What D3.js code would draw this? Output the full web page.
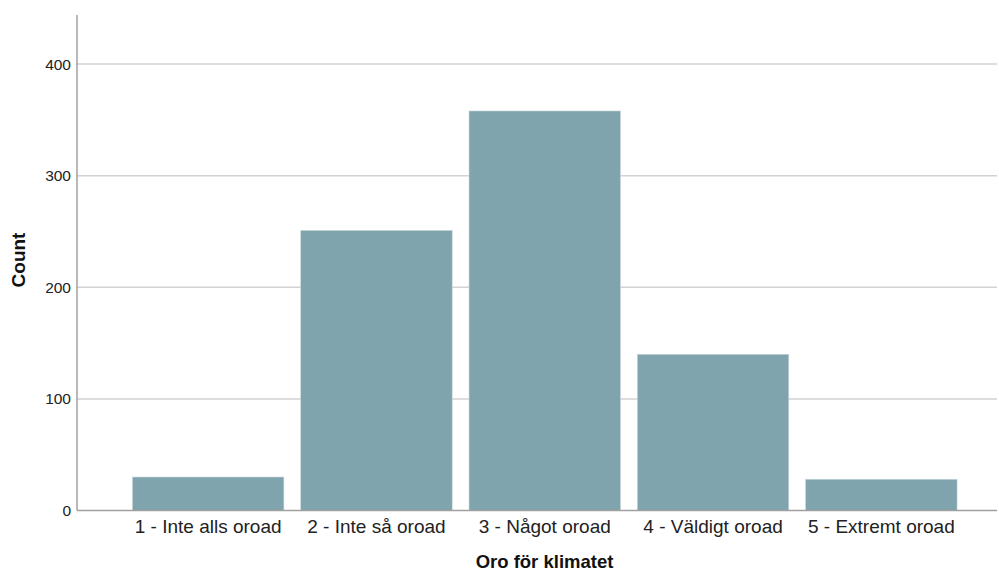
<!DOCTYPE html>
<html>
<head>
<meta charset="utf-8">
<script src="https://cdn.jsdelivr.net/npm/d3@7"></script>
<style>
  body { margin: 0; background: #fff; }
  text { font-family: "Liberation Sans", Arial, sans-serif; }
</style>
</head>
<body>
<div id="chart"></div>
<script>
	//Chart data
	var categories = ["1 - Inte alls oroad", "2 - Inte så oroad", "3 - Något oroad", "4 - Väldigt oroad", "5 - Extremt oroad"];
	var counts = [30, 251, 358, 140, 28];
	var yTicks = [0, 100, 200, 300, 400];

	//Plot box (not using "top" - it clashes with window.top)
	var	W = 999, H = 572,
		m = {left: 77, right: 997, top: 15, bottom: 510.5};

	var svg = d3.select("#chart").append("svg")
		.attr("width", W)
		.attr("height", H);

	var y = d3.scaleLinear().domain([0, 444]).range([m.bottom, m.top]);
	var x = d3.scaleBand().domain(categories).range([124, 965.5]).paddingInner(0.1).paddingOuter(0.05);

	//Gridlines
	svg.append("g")
		.selectAll("line")
		.data(yTicks.filter(function(d) { return d > 0; }))
		.enter().append("line")
		.attr("x1", m.left).attr("x2", m.right)
		.attr("y1", function(d) { return y(d); })
		.attr("y2", function(d) { return y(d); })
		.attr("stroke", "#d2d2d2")
		.attr("stroke-width", 1.5);

	//Bars
	svg.append("g")
		.selectAll("rect")
		.data(counts)
		.enter().append("rect")
		.attr("x", function(d, i) { return x(categories[i]); })
		.attr("width", x.bandwidth())
		.attr("y", function(d) { return y(d); })
		.attr("height", function(d) { return y(0) - y(d); })
		.attr("fill", "#7fa4ad")
		.attr("stroke", "#c9d8dc")
		.attr("stroke-width", 0.6);

	//Y axis
	var yAxis = svg.append("g")
		.attr("transform", "translate(" + m.left + ",0)")
		.call(d3.axisLeft(y).tickValues(yTicks).tickSize(0).tickPadding(6));
	yAxis.select(".domain").remove();
	yAxis.selectAll("text").attr("font-size", 15.5).attr("fill", "#222");
	svg.append("line")
		.attr("x1", m.left).attr("x2", m.left)
		.attr("y1", m.top).attr("y2", m.bottom)
		.attr("stroke", "#a0a0a0").attr("stroke-width", 1.5);

	//X axis
	var xAxis = svg.append("g")
		.attr("transform", "translate(0," + m.bottom + ")")
		.call(d3.axisBottom(x).tickSize(0).tickPadding(9));
	xAxis.select(".domain").remove();
	xAxis.selectAll("text").attr("font-size", 19).attr("fill", "#222");
	svg.append("line")
		.attr("x1", m.left).attr("x2", m.right)
		.attr("y1", m.bottom).attr("y2", m.bottom)
		.attr("stroke", "#a0a0a0").attr("stroke-width", 1.5);

	//Axis titles
	svg.append("text")
		.attr("x", 544.5).attr("y", 568)
		.attr("text-anchor", "middle")
		.attr("font-size", 18.5).attr("font-weight", "bold").attr("fill", "#111")
		.text("Oro för klimatet");

	svg.append("text")
		.attr("transform", "translate(25,260) rotate(-90)")
		.attr("text-anchor", "middle")
		.attr("font-size", 19).attr("font-weight", "bold").attr("fill", "#111")
		.text("Count");
</script>
</body>
</html>
